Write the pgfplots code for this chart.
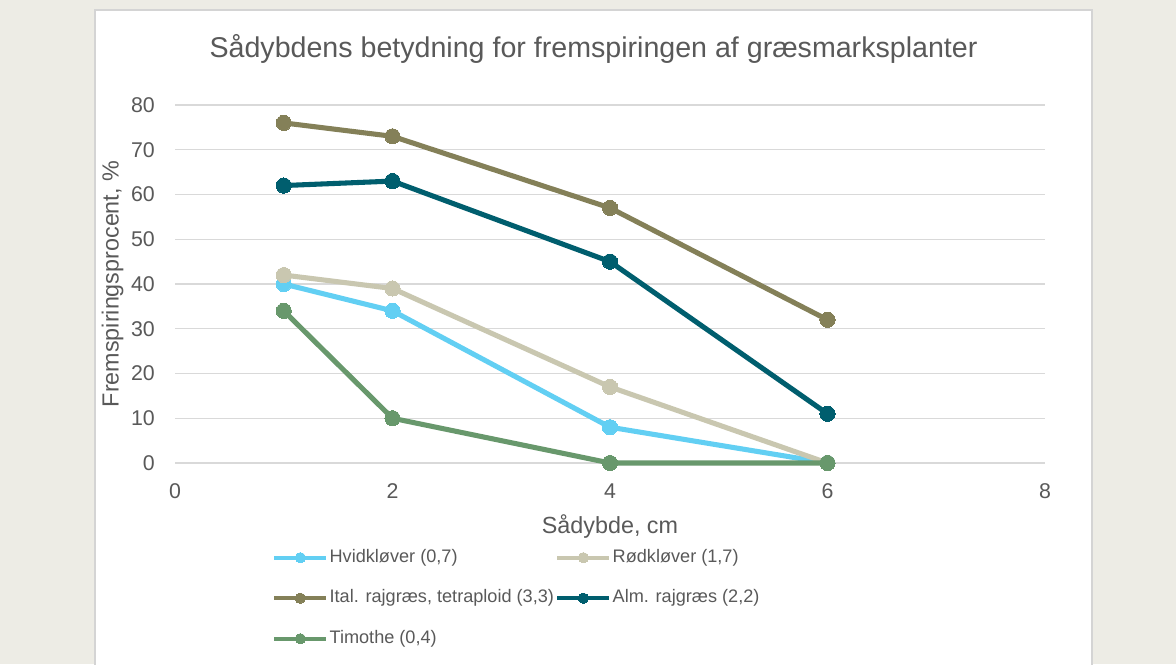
\documentclass[border=0pt]{standalone}
\usepackage{fontspec}
\setmainfont{Liberation Sans}
\usepackage{pgfplots}
\pgfplotsset{compat=1.18}
\definecolor{bgc}{HTML}{EDECE5}
\definecolor{panelb}{HTML}{D4D4D4}
\definecolor{gridc}{HTML}{D9D9D9}
\definecolor{txt}{HTML}{595959}
\definecolor{hvid}{HTML}{62CFF3}
\definecolor{rod}{HTML}{C9C7B0}
\definecolor{ital}{HTML}{848058}
\definecolor{alm}{HTML}{005E6E}
\definecolor{tim}{HTML}{68986C}
\begin{document}
\begin{tikzpicture}[x=0.75pt,y=0.75pt]
\useasboundingbox (0,0) rectangle (1176,664);
\fill[bgc] (0,0) rectangle (1176,664);
\filldraw[fill=white,draw=panelb,line width=1.2pt] (95,-10) rectangle (1092,654);
\begin{axis}[
  at={(131.25pt,150.75pt)}, anchor=south west,
  scale only axis, width=652.5pt, height=268.5pt,
  xmin=0, xmax=8, ymin=0, ymax=80,
  xtick={0,2,4,6,8}, ytick={0,10,...,80},
  axis line style={draw=none}, major tick length=0pt,
  ymajorgrids, grid style={gridc, line width=1.1pt},
  tick label style={font=\fontsize{16}{19}\selectfont, text=txt},
  /pgf/number format/assume math mode=true,
  xticklabel style={anchor=center, yshift=-21.4pt, inner sep=0pt},
  yticklabel style={anchor=east, xshift=-15pt, inner sep=0pt},
  clip=false,
  every axis plot/.append style={line width=3.8pt, mark=*, mark size=5.7pt, mark options={line width=0pt}},
  legend image code/.code={\draw[#1, line width=3pt, mark repeat=2, mark phase=2, mark options={line width=0pt, scale=0.68}] plot coordinates {(0pt,0pt) (19.5pt,0pt) (39pt,0pt)};},
  legend style={draw=none, fill=none, at={(axis description cs:0.1069,-0.232)}, anchor=north west,
    font=\fontsize{13.6}{16}\selectfont, text=txt, row sep=17.4pt,
    /tikz/every even column/.append style={column sep=0pt},
    nodes={inner xsep=1pt, inner ysep=0pt, text height=10pt, text depth=3pt}},
  legend columns=2, legend cell align=left,
]
\addplot[hvid] coordinates {(1,40)(2,34)(4,8)(6,0)};
\addlegendentry{Hvidkløver (0,7)}
\addplot[rod] coordinates {(1,42)(2,39)(4,17)(6,0)};
\addlegendentry{Rødkløver (1,7)}
\addplot[ital] coordinates {(1,76)(2,73)(4,57)(6,32)};
\addlegendentry{Ital. rajgræs, tetraploid (3,3)}
\addplot[alm] coordinates {(1,62)(2,63)(4,45)(6,11)};
\addlegendentry{Alm. rajgræs (2,2)}
\addplot[tim] coordinates {(1,34)(2,10)(4,0)(6,0)};
\addlegendentry{Timothe (0,4)}
\end{axis}
\node[anchor=base, text=txt, font=\fontsize{21.45}{25}\selectfont] at (593.5,606) {Sådybdens betydning for fremspiringen af græsmarksplanter};
\node[anchor=base, text=txt, font=\fontsize{17.5}{21}\selectfont] at (610,131) {Sådybde, cm};
\node[rotate=90, anchor=center, text=txt, font=\fontsize{17.5}{21}\selectfont] at (112.5,380) {Fremspiringsprocent, \%};
\end{tikzpicture}
\end{document}
